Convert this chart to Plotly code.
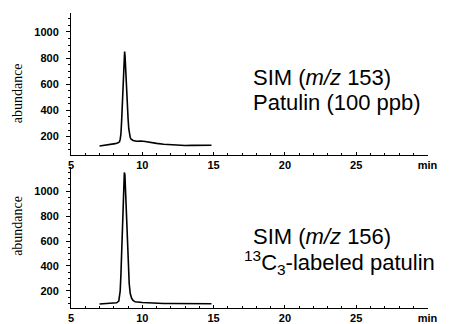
import plotly.graph_objects as go

# Top panel: SIM m/z 153, patulin 100 ppb
t_top = [7.0, 7.3, 7.6, 7.9, 8.1, 8.3, 8.4, 8.45, 8.5, 8.55, 8.6, 8.65, 8.7, 8.73, 8.76, 8.79,
         8.82, 8.86, 8.9, 8.95, 9.0, 9.05, 9.1, 9.15, 9.2, 9.35, 9.6, 9.9, 10.2, 10.6, 11.0,
         11.5, 12.0, 12.5, 13.0, 13.5, 14.0, 14.5, 14.85]
a_top = [128, 132, 137, 142, 146, 152, 160, 180, 220, 320, 480, 630, 770, 840, 850, 815,
         730, 650, 560, 440, 340, 260, 215, 195, 182, 170, 164, 166, 162, 154, 148,
         142, 137, 133, 132, 133, 132, 134, 134]

# Bottom panel: SIM m/z 156, 13C3-labeled patulin
t_bot = [7.0, 7.5, 8.0, 8.2, 8.35, 8.45, 8.5, 8.55, 8.6, 8.65, 8.7, 8.74, 8.78, 8.82, 8.87,
         8.92, 8.97, 9.02, 9.08, 9.15, 9.25, 9.35, 9.5, 10.0, 10.5, 11.0, 11.5, 12.0, 13.0,
         14.0, 14.85]
a_bot = [95, 97, 100, 104, 118, 200, 330, 520, 720, 920, 1080, 1150, 1130, 1020, 850,
         680, 520, 380, 260, 180, 140, 124, 112, 106, 102, 100, 99, 98, 97,
         98, 97]

x_ticks = [5, 10, 15, 20, 25, 30]
x_ticktext = ["5", "10", "15", "20", "25", "min"]
y_ticks = [200, 400, 600, 800, 1000]

W, H = 456, 324

def px_x(p):
    return p / W

def px_y(p):
    return 1 - p / H

fig = go.Figure()
fig.add_trace(go.Scatter(x=t_top, y=a_top, mode="lines", xaxis="x", yaxis="y",
                         line=dict(color="black", width=1.6), showlegend=False))
fig.add_trace(go.Scatter(x=t_bot, y=a_bot, mode="lines", xaxis="x2", yaxis="y2",
                         line=dict(color="black", width=1.6), showlegend=False))

tickfont = dict(family="Liberation Sans, Arial", size=11, color="black", weight="bold")

xcommon = dict(range=[5, 30], tickvals=x_ticks, ticktext=x_ticktext, showgrid=False,
               zeroline=False, showline=True, linecolor="black", linewidth=1,
               ticks="inside", ticklen=3, tickcolor="black", tickfont=tickfont,
               minor=dict(dtick=1, ticks="inside", ticklen=2, tickcolor="black"),
               domain=[px_x(70), px_x(437)])
ycommon = dict(tickvals=y_ticks, showgrid=False, zeroline=False, showline=True,
               linecolor="black", linewidth=1, ticks="outside", ticklen=4,
               tickcolor="black", tickfont=tickfont, ticklabelstandoff=5,
               minor=dict(dtick=50, ticks="outside", ticklen=2, tickcolor="black"))

fig.update_layout(
    width=W, height=H, margin=dict(l=0, r=0, t=0, b=0),
    paper_bgcolor="white", plot_bgcolor="white",
    xaxis=dict(**xcommon, anchor="y"),
    yaxis=dict(**ycommon, range=[63, 1145], domain=[px_y(155), px_y(13)], anchor="x"),
    xaxis2=dict(**xcommon, anchor="y2"),
    yaxis2=dict(**ycommon, range=[62, 1190], domain=[px_y(309), px_y(168)], anchor="x2"),
)

lab_font = dict(family="Liberation Sans, Arial", size=22, color="black")
ylab_font = dict(family="Liberation Serif, Times New Roman", size=14, color="black")
ann = [
    dict(text="SIM (<i>m/z</i> 153)", x=px_x(255), y=px_y(78), xanchor="left", yanchor="middle"),
    dict(text="Patulin (100 ppb)", x=px_x(255), y=px_y(103), xanchor="left", yanchor="middle"),
    dict(text="SIM (<i>m/z</i> 156)", x=px_x(255), y=px_y(237), xanchor="left", yanchor="middle"),
    dict(text="<sup>13</sup>C<sub>3</sub>-labeled patulin", x=px_x(246), y=px_y(263),
         xanchor="left", yanchor="middle"),
]
annotations = []
for a in ann:
    annotations.append(dict(**a, xref="paper", yref="paper", showarrow=False, font=lab_font))
for yc in [94, 227]:
    annotations.append(dict(text="abundance", x=px_x(15), y=px_y(yc), xref="paper", yref="paper",
                            showarrow=False, textangle=-90, font=ylab_font,
                            xanchor="center", yanchor="middle"))
fig.update_layout(annotations=annotations)

fig.write_html("out.html")
